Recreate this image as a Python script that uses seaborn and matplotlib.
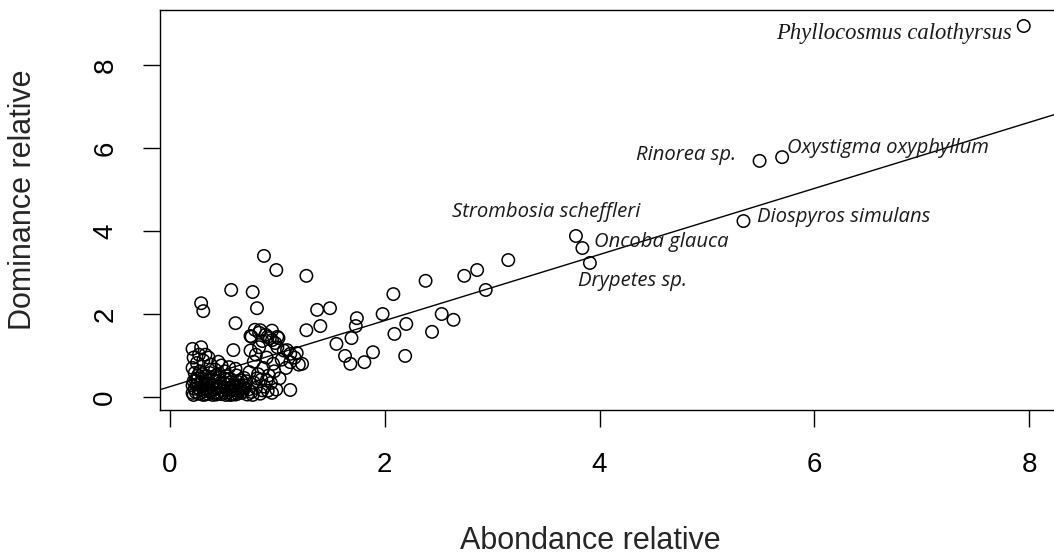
import numpy as np
import pandas as pd
import matplotlib
matplotlib.use("Agg")
import matplotlib.pyplot as plt
import seaborn as sns

# Relative abundance vs relative dominance per species
labelled_species = ["Phyllocosmus calothyrsus", "Rinorea sp.", "Oxystigma oxyphyllum",
                    "Diospyros simulans", "Strombosia scheffleri", "Oncoba glauca",
                    "Drypetes sp."]
labelled_abund = [7.95, 5.49, 5.70, 5.34, 3.78, 3.84, 3.91]
labelled_domin = [8.94, 5.69, 5.78, 4.24, 3.88, 3.59, 3.23]

mid_abund = [3.15, 2.86, 2.74, 2.38, 2.94, 2.20, 2.53, 2.64, 2.44, 2.19, 2.08, 1.98,
             2.09, 1.74, 1.73, 1.49, 1.37, 1.40, 1.27, 1.27, 0.99, 0.875, 0.77, 0.81,
             0.57, 0.29, 0.31, 0.61, 1.55, 1.69, 1.63, 1.68, 1.81, 1.89, 1.23, 1.12,
             1.01, 1.12, 1.12, 0.59, 0.21, 0.29]
mid_domin = [3.30, 3.06, 2.92, 2.80, 2.58, 1.76, 2.00, 1.86, 1.57, 0.99, 2.48, 2.00,
             1.52, 1.90, 1.71, 2.14, 2.10, 1.71, 1.61, 2.92, 3.06, 3.40, 2.53, 2.14,
             2.58, 2.26, 2.07, 1.78, 1.28, 1.42, 0.99, 0.80, 0.84, 1.08, 0.80, 0.17,
             1.42, 1.04, 0.84, 1.13, 1.16, 1.20]

low_abund = [0.22, 0.24, 0.23, 0.25, 0.22, 0.27, 0.28, 0.30, 0.26, 0.31, 0.32, 0.33,
             0.35, 0.36, 0.34, 0.38, 0.39, 0.40, 0.41, 0.42, 0.44, 0.45, 0.46, 0.48,
             0.49, 0.23, 0.28, 0.21, 0.25, 0.30,
             0.50, 0.52, 0.53, 0.55, 0.56, 0.58, 0.59, 0.60, 0.62, 0.63, 0.64, 0.66,
             0.67, 0.69, 0.70, 0.72, 0.73, 0.74, 0.51, 0.55, 0.48, 0.42, 0.37, 0.61,
             0.22, 0.27, 0.31, 0.33, 0.38, 0.45, 0.36,
             0.76, 0.78, 0.80, 0.82, 0.84, 0.85, 0.87, 0.88, 0.90, 0.91, 0.92, 0.94,
             0.96, 0.97, 0.99, 1.00, 1.02, 1.04, 0.78, 0.80, 0.83, 0.86, 0.89, 0.93,
             0.95, 0.76, 0.79, 0.98, 0.83, 0.75, 1.06, 1.08, 1.16, 1.20,
             0.75, 0.84, 0.91, 0.95, 1.00, 1.09, 1.18,
             0.21, 0.26, 0.29, 0.33, 0.37, 0.40, 0.43, 0.47, 0.50, 0.54, 0.57, 0.61,
             0.65, 0.68, 0.71, 0.24, 0.30, 0.35, 0.39, 0.43, 0.47, 0.52, 0.57, 0.62,
             0.66, 0.26, 0.32, 0.44, 0.53, 0.21, 0.34, 0.41, 0.56, 0.64, 0.69, 0.77,
             0.81, 0.86, 0.90, 0.95]
low_domin = [0.05, 0.12, 0.20, 0.30, 0.38, 0.08, 0.18, 0.25, 0.45, 0.05, 0.14, 0.33,
             0.08, 0.22, 0.42, 0.12, 0.30, 0.05, 0.18, 0.40, 0.10, 0.26, 0.50, 0.07,
             0.16, 0.58, 0.62, 0.70, 0.82, 0.55,
             0.34, 0.05, 0.22, 0.12, 0.44, 0.06, 0.28, 0.16, 0.52, 0.08, 0.36, 0.20,
             0.10, 0.46, 0.28, 0.06, 0.18, 0.60, 0.62, 0.72, 0.76, 0.66, 0.58, 0.68,
             0.95, 1.02, 0.88, 1.02, 0.78, 0.85, 0.95,
             0.12, 0.35, 0.22, 0.55, 0.08, 0.42, 0.70, 0.25, 0.95, 0.15, 0.52, 0.34,
             0.80, 0.62, 0.18, 1.20, 0.45, 0.90, 0.85, 1.02, 1.20, 1.35, 1.50, 1.42,
             1.60, 1.45, 1.62, 1.30, 1.55, 1.12, 1.12, 0.70, 0.95, 0.78,
             1.47, 1.61, 1.45, 1.37, 1.45, 1.13, 1.06,
             0.10, 0.22, 0.34, 0.06, 0.16, 0.28, 0.20, 0.34, 0.12, 0.30, 0.18, 0.06,
             0.28, 0.14, 0.38, 0.40, 0.44, 0.30, 0.46, 0.06, 0.24, 0.42, 0.36, 0.24,
             0.40, 0.52, 0.50, 0.54, 0.50, 0.28, 0.18, 0.10, 0.05, 0.14, 0.22, 0.05,
             0.45, 0.16, 0.40, 0.10]

# least-squares line of dominance on abundance
fit_intercept = 0.25
fit_slope = 0.796

df = pd.DataFrame({
    "abondance": labelled_abund + mid_abund + low_abund,
    "dominance": labelled_domin + mid_domin + low_domin,
})

sns.set_style("white")
plt.rcParams["font.family"] = ["Liberation Sans", "DejaVu Sans"]

fig = plt.figure(figsize=(10.54, 5.57), dpi=100)
ax = fig.add_axes([0.1518, 0.2639, 0.851, 0.7181])

sns.scatterplot(data=df, x="abondance", y="dominance", ax=ax, marker="o",
                s=80, facecolor="none", edgecolor="black", linewidth=1.1)
ax.axline((0, fit_intercept), slope=fit_slope, color="black", lw=1.0)
ax.set_xlim(-0.093, 8.259)
ax.set_ylim(-0.313, 9.325)

ax.set_xticks([0, 2, 4, 6, 8])
ax.set_yticks([0, 2, 4, 6, 8])
ax.tick_params(axis="both", direction="out", length=12, width=1, colors="black",
               labelsize=20, pad=18, bottom=True, left=True)
for lab in ax.get_yticklabels():
    lab.set_rotation(90)
    lab.set_va("center")
ax.set_xlabel("Abondance relative", fontsize=22)
ax.set_ylabel("Dominance relative", fontsize=22)
ax.xaxis.set_label_coords(0.48, -0.29)
ax.yaxis.set_label_coords(-0.136, 0.525)

for side in ["left", "bottom", "top"]:
    ax.spines[side].set_visible(True)
    ax.spines[side].set_color("black")
    ax.spines[side].set_linewidth(1.0)
ax.spines["right"].set_visible(False)

# species names
label_pos = {
    "Rinorea sp.": (4.34, 5.83),
    "Oxystigma oxyphyllum": (5.75, 6.00),
    "Diospyros simulans": (5.47, 4.34),
    "Strombosia scheffleri": (2.63, 4.46),
    "Oncoba glauca": (3.95, 3.74),
    "Drypetes sp.": (3.80, 2.80),
}
for name, (lx, ly) in label_pos.items():
    ax.text(lx, ly, name, fontsize=14.6, style="italic", family="Open Sans",
            ha="left", va="center", color="#1a1a1a")
ax.text(7.84, 8.77, "Phyllocosmus calothyrsus", fontsize=16.3, style="italic",
        family="Liberation Serif", ha="right", va="center", color="#1a1a1a")

fig.savefig("out.png", dpi=100)
